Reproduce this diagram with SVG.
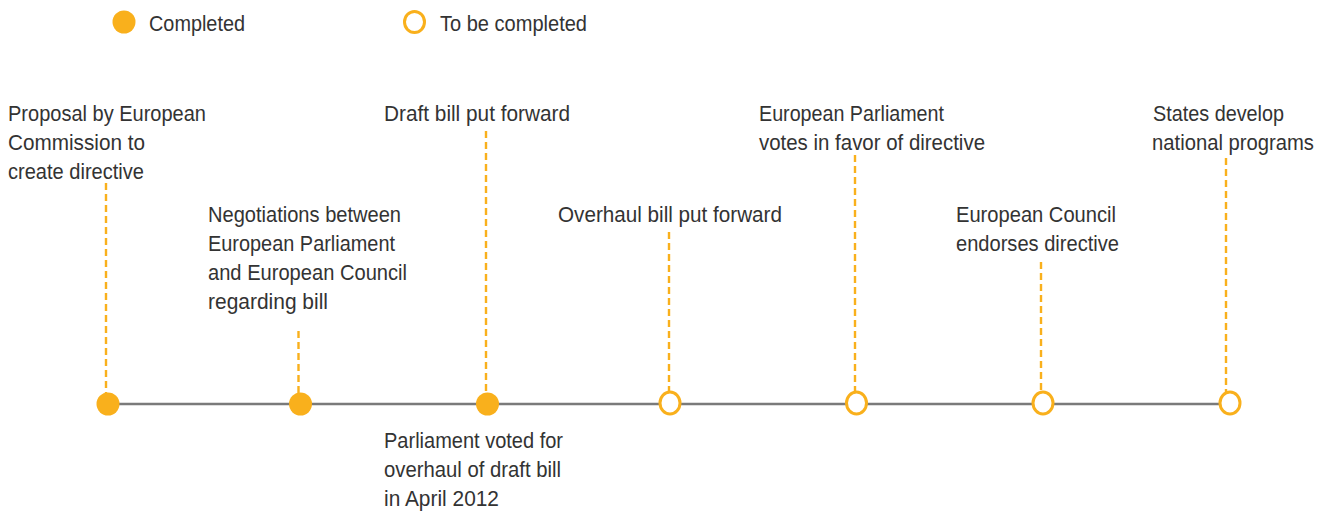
<svg xmlns="http://www.w3.org/2000/svg" width="1322" height="518" viewBox="0 0 1322 518">
  <style>
    .lbl { font-family: "Liberation Sans", Arial, sans-serif; font-size: 22px; fill: #333333; }
    .done { fill: #F9B01C; stroke: none; }
    .todo { fill: #ffffff; stroke: #F9B01C; stroke-width: 3; }
    .axis { stroke: #7a7a7a; stroke-width: 2.5; fill: none; }
    .lead { stroke: #F9B01C; stroke-width: 2.4; stroke-dasharray: 7 4; fill: none; }
  </style>
  <rect width="1322" height="518" fill="#ffffff"/>

  <!-- legend -->
  <g id="legend">
    <circle class="done" cx="124" cy="22" r="11.5"/>
    <text class="lbl" x="149" y="31" textLength="96" lengthAdjust="spacingAndGlyphs">Completed</text>
    <ellipse class="todo" cx="414.5" cy="22" rx="10" ry="10.5"/>
    <text class="lbl" x="440" y="31" textLength="147" lengthAdjust="spacingAndGlyphs">To be completed</text>
  </g>

  <!-- timeline axis and dashed leaders -->
  <g id="connectors">
    <line class="axis" x1="108" y1="404" x2="1230" y2="404"/>
    <line class="lead" x1="106" y1="183" x2="106" y2="394"/>
    <line class="lead" x1="298.5" y1="331" x2="298.5" y2="394"/>
    <line class="lead" x1="486" y1="131" x2="486" y2="393"/>
    <line class="lead" x1="669" y1="232" x2="669" y2="392"/>
    <line class="lead" x1="855" y1="155" x2="855" y2="392"/>
    <line class="lead" x1="1041" y1="262" x2="1041" y2="392"/>
    <line class="lead" x1="1226" y1="158" x2="1226" y2="392"/>
  </g>

  <g id="proposal">
    <circle class="done" cx="108" cy="404" r="11.5"/>
    <text class="lbl" x="8" y="121" textLength="198" lengthAdjust="spacingAndGlyphs">Proposal by European</text>
    <text class="lbl" x="8" y="150" textLength="137" lengthAdjust="spacingAndGlyphs">Commission to</text>
    <text class="lbl" x="8" y="179" textLength="136" lengthAdjust="spacingAndGlyphs">create directive</text>
  </g>

  <g id="negotiations">
    <circle class="done" cx="300.5" cy="404" r="11.5"/>
    <text class="lbl" x="208" y="222" textLength="193" lengthAdjust="spacingAndGlyphs">Negotiations between</text>
    <text class="lbl" x="208" y="251" textLength="187" lengthAdjust="spacingAndGlyphs">European Parliament</text>
    <text class="lbl" x="208" y="280" textLength="199" lengthAdjust="spacingAndGlyphs">and European Council</text>
    <text class="lbl" x="208" y="309" textLength="120" lengthAdjust="spacingAndGlyphs">regarding bill</text>
  </g>

  <g id="draft-bill">
    <circle class="done" cx="487.5" cy="404" r="11.5"/>
    <text class="lbl" x="384" y="121" textLength="186" lengthAdjust="spacingAndGlyphs">Draft bill put forward</text>
    <text class="lbl" x="384" y="448" textLength="179" lengthAdjust="spacingAndGlyphs">Parliament voted for</text>
    <text class="lbl" x="384" y="477" textLength="177" lengthAdjust="spacingAndGlyphs">overhaul of draft bill</text>
    <text class="lbl" x="384" y="506" textLength="115" lengthAdjust="spacingAndGlyphs">in April 2012</text>
  </g>

  <g id="overhaul-bill">
    <ellipse class="todo" cx="670" cy="403" rx="10" ry="11"/>
    <text class="lbl" x="558" y="222" textLength="224" lengthAdjust="spacingAndGlyphs">Overhaul bill put forward</text>
  </g>

  <g id="parliament-vote">
    <ellipse class="todo" cx="856.5" cy="403" rx="10" ry="11"/>
    <text class="lbl" x="759" y="121" textLength="185" lengthAdjust="spacingAndGlyphs">European Parliament</text>
    <text class="lbl" x="759" y="150" textLength="226" lengthAdjust="spacingAndGlyphs">votes in favor of directive</text>
  </g>

  <g id="council-endorsement">
    <ellipse class="todo" cx="1043" cy="403" rx="10" ry="11"/>
    <text class="lbl" x="956" y="222" textLength="160" lengthAdjust="spacingAndGlyphs">European Council</text>
    <text class="lbl" x="956" y="251" textLength="163" lengthAdjust="spacingAndGlyphs">endorses directive</text>
  </g>

  <g id="national-programs">
    <ellipse class="todo" cx="1230" cy="403" rx="10" ry="11"/>
    <text class="lbl" x="1153" y="121" textLength="131" lengthAdjust="spacingAndGlyphs">States develop</text>
    <text class="lbl" x="1152" y="150" textLength="162" lengthAdjust="spacingAndGlyphs">national programs</text>
  </g>
</svg>
